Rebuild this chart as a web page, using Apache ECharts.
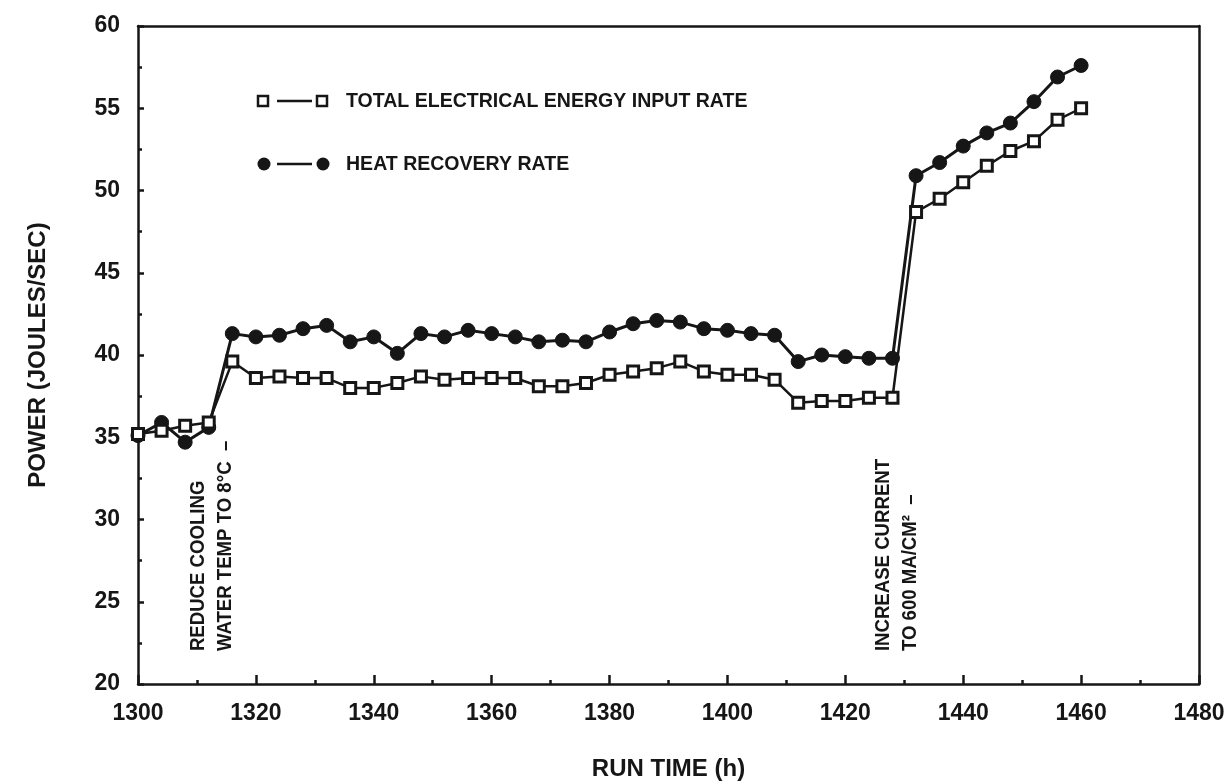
<!DOCTYPE html>
<html><head><meta charset="utf-8">
<script src="https://cdn.jsdelivr.net/npm/echarts@6/dist/echarts.min.js"></script>
<style>html,body{margin:0;padding:0;background:#fff}#c{width:1230px;height:784px}</style>
</head><body><div id="c"></div>
<script>
const hours = [1300,1304,1308,1312,1316,1320,1324,1328,1332,1336,1340,1344,1348,1352,1356,1360,1364,1368,1372,1376,1380,1384,1388,1392,1396,1400,1404,1408,1412,1416,1420,1424,1428,1432,1436,1440,1444,1448,1452,1456,1460];
const electrical = [35.2,35.4,35.7,35.9,39.6,38.6,38.7,38.6,38.6,38.0,38.0,38.3,38.7,38.5,38.6,38.6,38.6,38.1,38.1,38.3,38.8,39.0,39.2,39.6,39.0,38.8,38.8,38.5,37.1,37.2,37.2,37.4,37.4,48.7,49.5,50.5,51.5,52.4,53.0,54.3,55.0];
const heat = [35.1,35.9,34.7,35.6,41.3,41.1,41.2,41.6,41.8,40.8,41.1,40.1,41.3,41.1,41.5,41.3,41.1,40.8,40.9,40.8,41.4,41.9,42.1,42.0,41.6,41.5,41.3,41.2,39.6,40.0,39.9,39.8,39.8,50.9,51.7,52.7,53.5,54.1,55.4,56.9,57.6];
const seriesNames = ['TOTAL ELECTRICAL ENERGY INPUT RATE','HEAT RECOVERY RATE'];
const xTitle = 'RUN TIME (h)';
const yTitle = 'POWER (JOULES/SEC)';
const notes = [
  {x:1310.3, y:22, text:'REDUCE COOLING'},
  {x:1314.8, y:22, text:'WATER TEMP TO 8°C  –'},
  {x:1426.5, y:22, text:'INCREASE CURRENT'},
  {x:1431.1, y:22, text:'TO 600 MA/CM²  –'}
];

const FONT = '"Liberation Sans",Arial,Helvetica,sans-serif';
const INK = '#161616';
const chart = echarts.init(document.getElementById('c'));
const option = {
  animation:false,
  backgroundColor:'#fff',
  grid:{left:138,right:31,top:26,bottom:100,containLabel:false,outerBoundsMode:'none'},
  xAxis:[{
    type:'value',min:1300,max:1480,interval:20,position:'bottom',
    axisLine:{show:true,lineStyle:{color:INK,width:2.5}},
    axisTick:{show:true,inside:true,length:9,lineStyle:{color:INK,width:2.5}},
    minorTick:{show:true,splitNumber:2,length:4,lineStyle:{color:INK,width:2.5}},
    splitLine:{show:false},
    axisLabel:{color:INK,fontFamily:FONT,fontWeight:'bold',fontSize:23,margin:18,formatter:v=>String(v)},
    name:xTitle,nameLocation:'middle',nameGap:73,
    nameTextStyle:{color:INK,fontFamily:FONT,fontWeight:'bold',fontSize:24}
  },{
    type:'value',min:1300,max:1480,interval:20,position:'top',
    axisLine:{show:true,lineStyle:{color:INK,width:2.5}},
    axisTick:{show:false},axisLabel:{show:false},splitLine:{show:false}
  }],
  yAxis:[{
    type:'value',min:20,max:60,interval:5,position:'left',
    axisLine:{show:true,lineStyle:{color:INK,width:2.5}},
    axisTick:{show:true,inside:true,length:6,lineStyle:{color:INK,width:2.5}},
    minorTick:{show:true,splitNumber:2,length:4,lineStyle:{color:INK,width:2.5}},
    splitLine:{show:false},
    axisLabel:{color:INK,fontFamily:FONT,fontWeight:'bold',fontSize:23,margin:18},
    name:yTitle,nameLocation:'middle',nameGap:88,
    nameTextStyle:{color:INK,fontFamily:FONT,fontWeight:'bold',fontSize:24}
  },{
    type:'value',min:20,max:60,interval:5,position:'right',
    axisLine:{show:true,lineStyle:{color:INK,width:2.5}},
    axisTick:{show:false},axisLabel:{show:false},splitLine:{show:false}
  }],
  series:[{
    name:seriesNames[0],type:'line',
    data:hours.map((h,i)=>[h,electrical[i]]),
    symbol:'rect',symbolSize:11,
    itemStyle:{color:'#fff',borderColor:INK,borderWidth:3},
    lineStyle:{color:INK,width:2.5},z:3
  },{
    name:seriesNames[1],type:'line',
    data:hours.map((h,i)=>[h,heat[i]]),
    symbol:'circle',symbolSize:14,
    itemStyle:{color:INK,borderColor:INK,borderWidth:1},
    lineStyle:{color:INK,width:3},z:2
  }]
};
chart.setOption(option);

const g = [];
const legY = [101,164];
legY.forEach((y,i)=>{
  if(i===0){
    g.push({type:'rect',shape:{x:258,y:y-5,width:10,height:10},style:{fill:'#fff',stroke:INK,lineWidth:2.5}});
    g.push({type:'rect',shape:{x:317,y:y-5,width:10,height:10},style:{fill:'#fff',stroke:INK,lineWidth:2.5}});
  } else {
    g.push({type:'circle',shape:{cx:264,cy:y,r:6.5},style:{fill:INK}});
    g.push({type:'circle',shape:{cx:323,cy:y,r:6.5},style:{fill:INK}});
  }
  g.push({type:'line',shape:{x1:277,y1:y,x2:312,y2:y},style:{stroke:INK,lineWidth:2.5}});
  g.push({type:'text',x:346,y:y,scaleX:0.93,
    style:{text:seriesNames[i],fill:INK,font:'bold 21px '+FONT,textVerticalAlign:'middle',textAlign:'left'}});
});
notes.forEach(n=>{
  const p = chart.convertToPixel({xAxisIndex:0,yAxisIndex:0},[n.x,n.y]);
  g.push({type:'text',x:p[0],y:p[1],rotation:Math.PI/2,scaleX:0.93,
    style:{text:n.text,fill:INK,font:'bold 20px '+FONT,textAlign:'left',textVerticalAlign:'middle'}});
});
chart.setOption({graphic:g});
</script>
</body></html>
